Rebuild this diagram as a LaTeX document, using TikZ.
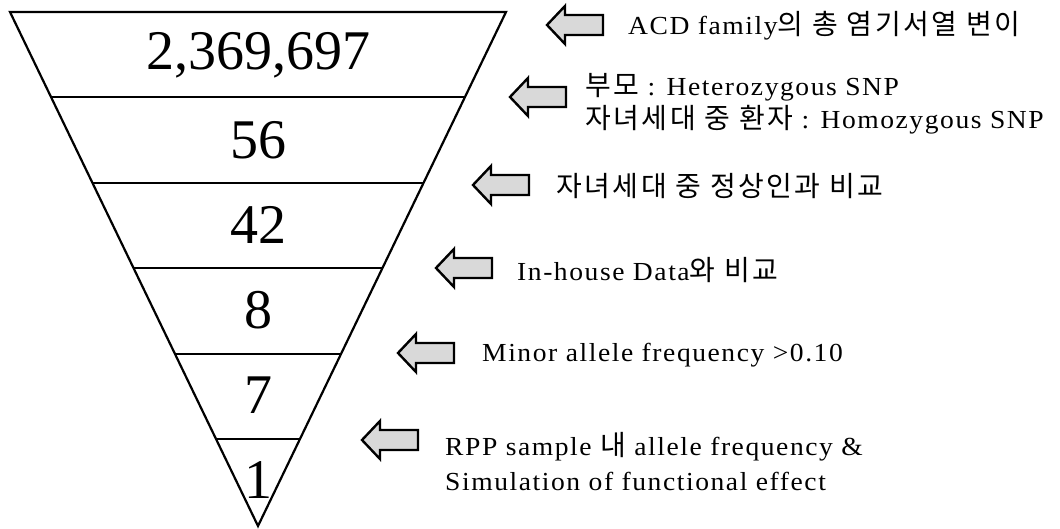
\documentclass[tikz,border=0pt]{standalone}
\usepackage{fontspec}
\setmainfont{Liberation Serif}
\newfontfamily\notefont{Liberation Serif}[LetterSpace=6, FakeStretch=1.06]
\newfontfamily\krfont{Noto Sans CJK KR}[LetterSpace=9]
\newcommand{\kr}[1]{{\krfont\fontsize{28}{33}\selectfont #1}}
\usetikzlibrary{calc}

\begin{document}
\begin{tikzpicture}[x=1pt, y=-1pt, every node/.style={font=\notefont\fontsize{26}{33}\selectfont},
	count/.style={font=\rmfamily\fontsize{56}{60}\selectfont, text depth=0pt, inner sep=0pt},
	note/.style={anchor=west, inner sep=0pt, align=left},
	leftarrow/.pic={\draw[line width=2.4pt, fill=black!15, line join=miter] (0,0) -- (18,-19) -- (18,-10) -- (56,-10) -- (56,10) -- (18,10) -- (18,19) -- cycle;}]
	\useasboundingbox (0,0) rectangle (1060,529);
	% funnel
	\coordinate (tl) at (10,12);
	\coordinate (tr) at (506,12);
	\coordinate (apex) at (258,526);
	\draw[line width=2.2pt, line join=miter] (tl) -- (tr) -- (apex) -- cycle;
	\foreach \y in {97,183,268,354,439}
		\draw[line width=2.2pt] ($(tl)!{(\y-12)/514}!(apex)$) -- ($(tr)!{(\y-12)/514}!(apex)$);
	% counts
	\node[count] (n1) at (258,51) {2,369,697};
	\node[count] (n2) at (258,140) {56};
	\node[count] (n3) at (258,225) {42};
	\node[count] (n4) at (258,310) {8};
	\node[count] (n5) at (258,395) {7};
	\node[count] (n6) at (258,480) {1};
	% filters
	\foreach \x/\y in {547/25, 510/97, 473/185, 436/268, 398/353, 362/440}
		\pic at (\x,\y) {leftarrow};
	\node[note] (l1) at (628,26) {ACD family\kr{의 총 염기서열 변이}};
	\node[note] (l2) at (585,104) {\kr{부모} : Heterozygous SNP\\ \kr{자녀세대 중 환자} : Homozygous SNP};
	\node[note] (l3) at (556,186) {\kr{자녀세대 중 정상인과 비교}};
	\node[note] (l4) at (517,270) {In-house Data\kr{와 비교}};
	\node[note] (l5) at (482,355) {Minor allele frequency >0.10};
	\node[note] (l6) at (445,462) {RPP sample \kr{내} allele frequency \&\\[2pt] Simulation of functional effect};
\end{tikzpicture}
\end{document}
